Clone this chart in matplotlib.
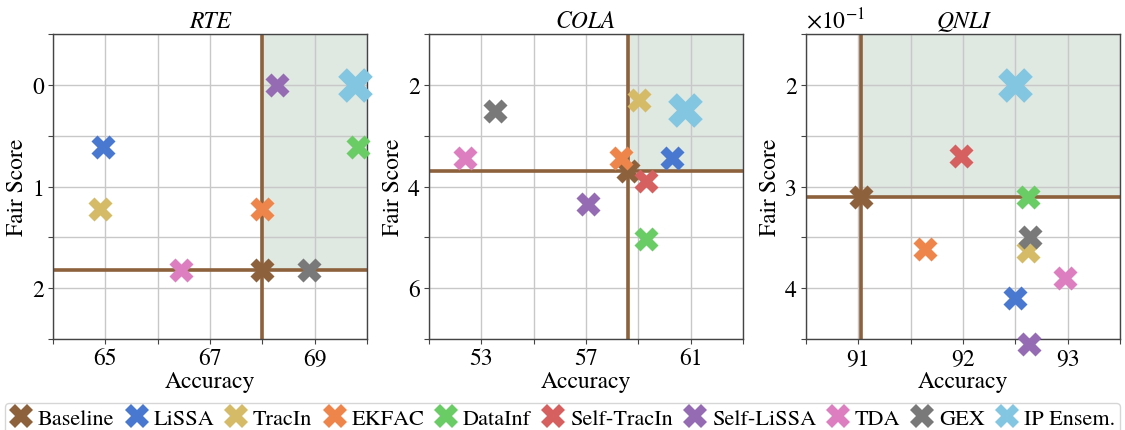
import numpy as np
import matplotlib
matplotlib.use("Agg")
import matplotlib.pyplot as plt
from matplotlib.lines import Line2D
from matplotlib.ticker import FixedLocator, FuncFormatter

plt.rcParams['font.family'] = ['TeX Gyre Termes', 'Liberation Serif', 'STIXGeneral', 'DejaVu Serif']
plt.rcParams['mathtext.fontset'] = 'stix'

methods = ["Baseline", "LiSSA", "TracIn", "EKFAC", "DataInf", "Self-TracIn",
           "Self-LiSSA", "TDA", "GEX", "IP Ensem."]
colors = ['#8c613c', '#4878d0', '#d5bb67', '#ee854a', '#6acc64', '#d65f5f',
          '#956cb4', '#dc7ec0', '#797979', '#82c6e2']

tasks = ["RTE", "COLA", "QNLI"]

# Accuracy and Fair Score per method (order as in `methods`)
rte_acc = [68.0, 64.95, 64.9, 68.0, 69.82, np.nan, 68.28, 66.45, 68.9, 69.78]
rte_fair = [1.82, 0.61, 1.22, 1.22, 0.61, np.nan, 0.0, 1.82, 1.82, 0.0]

cola_acc = [58.6, 60.3, 59.02, 58.35, 59.28, 59.28, 57.08, 52.38, 53.52, 60.78]
cola_fair = [3.69, 3.43, 2.30, 3.43, 5.04, 3.89, 4.35, 3.43, 2.51, 2.50]

qnli_acc = [91.03, 92.5, 92.62, 91.64, 92.62, 91.98, 92.63, 92.97, 92.64, 92.5]
qnli_fair = [0.310, 0.410, 0.363, 0.361, 0.310, 0.270, 0.455, 0.390, 0.350, 0.200]

accs = [rte_acc, cola_acc, qnli_acc]
fairs = [rte_fair, cola_fair, qnli_fair]

xlims = [(64, 70), (51, 63), (90.5, 93.5)]
ylims = [(2.5, -0.5), (7, 1), (0.45, 0.15)]
xticks = [np.arange(64, 70.01, 1), np.arange(51, 63.01, 2), np.arange(90.5, 93.51, 0.5)]
xlabeled = [[65, 67, 69], [53, 57, 61], [91, 92, 93]]
yticks = [np.arange(-0.5, 2.51, 0.5), np.arange(1, 7.01, 1), np.arange(0.15, 0.451, 0.05)]
ylabeled = [[0, 1, 2], [2, 4, 6], [0.2, 0.3, 0.4]]
yscale_lbl = [1, 1, 10]

fig = plt.figure(figsize=(11.25, 4.31), dpi=100)
lefts = [53 / 1125, 429 / 1125, 806 / 1125]
W = 314 / 1125
B = 1 - 340 / 431
H = 305 / 431

FS = 17
LFS = 16
draw_order = [1, 2, 3, 0, 4, 5, 6, 7, 8, 9]

for k in range(3):
    ax = fig.add_axes([lefts[k], B, W, H])
    ax.set_xlim(*xlims[k])
    ax.set_ylim(*ylims[k])
    bx, by = accs[k][0], fairs[k][0]
    x0, x1 = xlims[k]
    ytop = ylims[k][1]
    ax.fill_between([bx, x1], [ytop, ytop], [by, by], color='#5f8f6a', alpha=0.2,
                    lw=0, zorder=0.2)
    ax.axvline(bx, color='#8c613c', lw=2.6, zorder=1.8)
    ax.axhline(by, color='#8c613c', lw=2.6, zorder=1.8)
    for i in draw_order:
        s = 620 if i == 9 else 300
        ax.scatter([accs[k][i]], [fairs[k][i]], marker='X', s=s, color=colors[i],
                   linewidths=0, zorder=3 + i * 0.01, clip_on=False)
    ax.xaxis.set_major_locator(FixedLocator(xticks[k]))
    ax.yaxis.set_major_locator(FixedLocator(yticks[k]))
    xl = xlabeled[k]
    yl = ylabeled[k]
    sc = yscale_lbl[k]
    ax.xaxis.set_major_formatter(FuncFormatter(
        lambda v, p, xl=xl: (f"{v:g}" if any(abs(v - t) < 1e-6 for t in xl) else "")))
    ax.yaxis.set_major_formatter(FuncFormatter(
        lambda v, p, yl=yl, sc=sc: (f"{round(v * sc):d}" if any(abs(v - t) < 1e-6 for t in yl) else "")))
    ax.grid(True, color='#c8c8c8', lw=1.0, zorder=0.5)
    ax.set_axisbelow(True)
    ax.tick_params(labelsize=FS, length=3.5, width=0.8, color='#444444', pad=3)
    for sp in ax.spines.values():
        sp.set_color('#444444')
        sp.set_linewidth(1.0)
    ax.set_xlabel("Accuracy", fontsize=FS, labelpad=1)
    ax.set_ylabel("Fair Score", fontsize=FS, labelpad=3)
    ax.set_title(tasks[k], fontsize=FS, style='italic', pad=5)
    if k == 2:
        ax.text(0.0, 1.005, r'$\times10^{-1}$', transform=ax.transAxes,
                ha='left', va='bottom', fontsize=FS)

handles = [Line2D([], [], marker='X', ls='none', ms=17, color=c, markeredgewidth=0)
           for c in colors]
leg = fig.legend(handles, methods, loc='upper center', bbox_to_anchor=(0.5, 1 - 404 / 431),
                 ncol=10, fontsize=LFS, frameon=True, handlelength=1.0, handletextpad=0.25,
                 columnspacing=0.5, borderpad=0.25, borderaxespad=0.0, fancybox=True,
                 edgecolor='#cccccc')

fig.savefig("out.png", dpi=100)
